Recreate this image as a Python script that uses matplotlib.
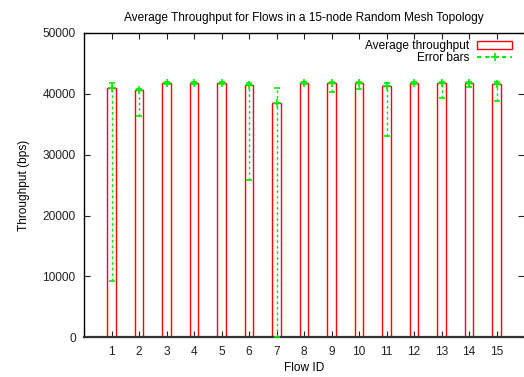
import numpy as np
from matplotlib import pyplot as plt
from matplotlib.lines import Line2D
from matplotlib.patches import Patch

plt.rcParams['font.family'] = ['Liberation Sans', 'DejaVu Sans']

# flow ids, mean throughput and error bar ends (bps)
flow_ids = list(range(1, 16))
avg_throughput = [41010, 40630, 41830, 41830, 41830, 41460, 38450, 41830,
                  41830, 41830, 41290, 41830, 41740, 41740, 41670]
err_upper = [41830, 40850, 41950, 41930, 41930, 41740, 40910, 41930,
             41900, 41900, 41740, 41930, 41900, 41900, 41900]
err_lower = [9300, 36310, 41650, 41700, 41700, 25850, 0, 41700,
             40260, 40800, 33120, 41600, 39270, 41080, 38830]

fig = plt.figure(figsize=(5.24, 3.77), dpi=100)
ax = fig.add_axes([84/524, (377-337.3)/377, (524-84)/524, (337.3-33)/377])

x = np.array(flow_ids)
y = np.array(avg_throughput)
ax.bar(x, y, width=0.3, facecolor='none', edgecolor='#ff0000', linewidth=1.0,
       label='Average throughput', zorder=2)

yerr = [y - np.array(err_lower), np.array(err_upper) - y]
eb = ax.errorbar(x, y, yerr=yerr, fmt='+', color='#00ee00', ecolor='#00ee00',
                 elinewidth=1.0, capsize=2, markersize=6, mew=1.2,
                 label='Error bars', zorder=3)
eb[2][0].set_linestyle((0, (2, 2)))

ax.set_xlim(0, 16)
ax.set_ylim(0, 50000)
ax.set_xticks(flow_ids)
ax.set_yticks(np.arange(0, 50001, 10000))
ax.tick_params(direction='in', top=True, right=True, labelsize=8.6, length=4,
               pad=6, colors='#222222')
ax.spines['right'].set_visible(False)
for s in ['left', 'top']:
    ax.spines[s].set_linewidth(1.0)
ax.spines['bottom'].set_linewidth(1.6)
ax.spines['bottom'].set_color('#333333')

ax.set_title('Average Throughput for Flows in a 15-node Random Mesh Topology',
             fontsize=8.6, pad=9)
ax.set_xlabel('Flow ID', fontsize=8.6, labelpad=3)
ax.set_ylabel('Throughput (bps)', fontsize=8.6, labelpad=9)

handles = [Patch(facecolor='none', edgecolor='#ff0000', linewidth=1.0),
           Line2D([], [], color='#00ee00', linestyle=(0, (2, 2)), marker='+',
                  markersize=6, mew=1.2)]
ax.legend(handles, ['Average throughput', 'Error bars'], loc='upper right',
          bbox_to_anchor=(0.99, 1.0), frameon=False, markerfirst=False,
          fontsize=8.6, handlelength=3.0, handletextpad=0.6, labelspacing=0.0,
          borderaxespad=0.2)

fig.savefig('out.png', dpi=100)
